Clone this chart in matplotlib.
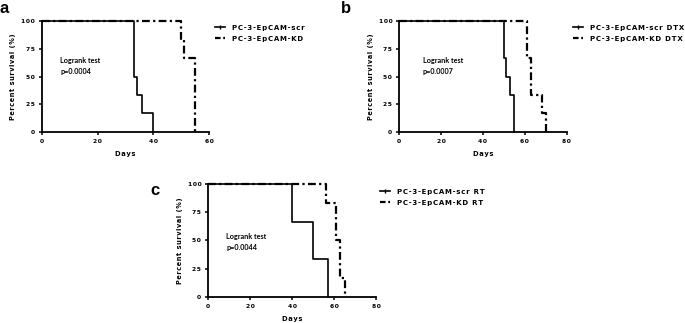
import matplotlib
matplotlib.use("Agg")
import matplotlib.pyplot as plt
from matplotlib.lines import Line2D

# survival data (days, percent survival)
a_scr_t = [0, 33, 34, 36, 40]
a_scr_s = [100, 50, 33.3, 16.7, 0]
a_kd_t = [0, 50, 51, 55]
a_kd_s = [100, 83.3, 66.7, 0]

b_scr_t = [0, 50, 51, 53, 55]
b_scr_s = [100, 66.7, 50, 33.3, 0]
b_kd_t = [0, 61, 63, 68, 70]
b_kd_s = [100, 66.7, 33.3, 16.7, 0]

c_scr_t = [0, 40, 50, 57]
c_scr_s = [100, 66.7, 33.3, 0]
c_kd_t = [0, 56, 61, 63, 65]
c_kd_s = [100, 83.3, 50, 16.7, 0]

labels_a = ["PC-3-EpCAM-scr", "PC-3-EpCAM-KD"]
labels_b = ["PC-3-EpCAM-scr DTX", "PC-3-EpCAM-KD DTX"]
labels_c = ["PC-3-EpCAM-scr RT", "PC-3-EpCAM-KD RT"]
pvals = ["p=0.0004", "p=0.0007", "p=0.0044"]
yticks = [0, 25, 50, 75, 100]

dashdot = (0, (3.5, 1.5, 1, 1.5))
tickfont = dict(family="DejaVu Sans", weight="bold", size=4.3)


# graphpad style wide letter spacing
def spaced(s):
    return "\u200a".join(s)


fig = plt.figure(figsize=(6.85, 3.23), dpi=100)


def panel(rect, scr_t, scr_s, kd_t, kd_s, xmax, xticks, labels, pval, txt_xy, leg_xy):
    ax = fig.add_axes(rect)
    ax.step(kd_t, kd_s, where="post", color="black", lw=1.6, ls=dashdot, clip_on=False)
    ax.step(scr_t, scr_s, where="post", color="black", lw=1.2, clip_on=False)
    ax.set_xlim(0, xmax)
    ax.set_ylim(0, 100)
    ax.set_xticks(xticks)
    ax.set_yticks(yticks)
    ax.set_xticklabels([spaced(str(v)) for v in xticks], fontdict=tickfont)
    ax.set_yticklabels([spaced(str(v)) for v in yticks], fontdict=tickfont)
    for s in ["top", "right"]:
        ax.spines[s].set_visible(False)
    for s in ["left", "bottom"]:
        ax.spines[s].set_linewidth(1.3)
    ax.tick_params(direction="out", length=2.5, width=1.1, pad=2.5)
    ax.set_xlabel(spaced("Days"), family="DejaVu Sans", weight="bold", size=4.9, labelpad=5)
    ax.set_ylabel(spaced("Percent survival (%)"), family="DejaVu Sans", weight="bold",
                  size=4.7, labelpad=3.5)
    ax.text(txt_xy[0], txt_xy[1], "Logrank test\n" + pval, transform=ax.transAxes,
            family="Lato", weight="bold", size=5.2, linespacing=1.7, va="top")
    h1 = Line2D([], [], color="black", lw=1.2, marker="|", markersize=3)
    h2 = Line2D([], [], color="black", lw=1.6, ls=(0, (2.5, 1.2, 1, 1.2)))
    ax.legend([h1, h2], [spaced(l) for l in labels], loc="upper left", bbox_to_anchor=leg_xy,
              bbox_transform=fig.transFigure, frameon=False, handlelength=1.4,
              handletextpad=1.0, labelspacing=0.75, borderaxespad=0, borderpad=0,
              prop=dict(family="DejaVu Sans", weight="bold", size=5))
    return ax


panel([0.0613, 0.5913, 0.2438, 0.3437], a_scr_t, a_scr_s, a_kd_t, a_kd_s, 60, [0, 20, 40, 60],
      labels_a, pvals[0], (0.11, 0.673), (0.314, 0.924))
panel([0.5829, 0.5913, 0.2444, 0.3437], b_scr_t, b_scr_s, b_kd_t, b_kd_s, 80, [0, 20, 40, 60, 80],
      labels_b, pvals[1], (0.14, 0.673), (0.8365, 0.924))
panel([0.3041, 0.0814, 0.2448, 0.3489], c_scr_t, c_scr_s, c_kd_t, c_kd_s, 80, [0, 20, 40, 60, 80],
      labels_c, pvals[2], (0.106, 0.565), (0.5547, 0.416))

for lbl, x, y in [("a", 0.0, 0.96), ("b", 0.497, 0.96), ("c", 0.219, 0.396)]:
    fig.text(x, y, lbl, family="Liberation Sans", weight="bold", size=12, va="baseline")

fig.savefig("out.png", dpi=100)
